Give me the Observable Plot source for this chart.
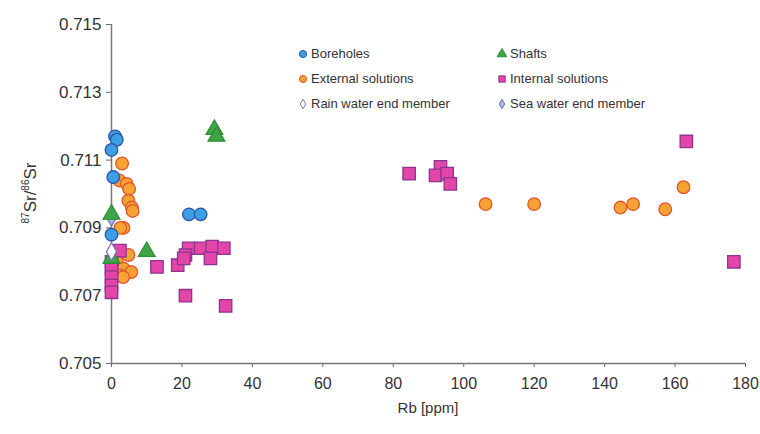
<!DOCTYPE html>
<html>
<head>
<meta charset="utf-8">
<script src="https://cdn.jsdelivr.net/npm/d3@7"></script>
<script src="https://cdn.jsdelivr.net/npm/@observablehq/plot@0.6"></script>
<style>
  html, body { margin: 0; padding: 0; background: #fff; }
  #wrap { position: relative; width: 760px; height: 434px; font-family: "Liberation Sans", Arial, sans-serif; }
  #legend { position: absolute; left: 297px; top: 44px; display: grid; grid-template-columns: 199px 200px; row-gap: 6px; font-size: 13px; color: #333; }
  #legend div { display: flex; align-items: center; height: 19px; white-space: nowrap; }
  #legend svg { margin-right: 2px; }
</style>
</head>
<body>
<div id="wrap"></div>
<script>
// ---- data ----
const xTicks = [0, 20, 40, 60, 80, 100, 120, 140, 160, 180];
const yTicks = [0.705, 0.707, 0.709, 0.711, 0.713, 0.715];

const boreholesRb = [1.0, 1.5, 0, 0.5, 0, 22, 25.3];
const boreholesSr = [0.7117, 0.7116, 0.7113, 0.7105, 0.7088, 0.7094, 0.7094];

const externalRb = [3.0, 2.2, 4.3, 5.0, 4.8, 5.8, 6.0, 3.4, 2.5, 4.8, 1.5, 3.4, 5.6, 2.4, 3.3, 106.2, 120, 144.5, 148.1, 157.2, 162.4];
const externalSr = [0.7109, 0.7104, 0.7103, 0.71015, 0.7098, 0.7096, 0.7095, 0.7090, 0.7090, 0.7082, 0.7080, 0.7078, 0.7077, 0.7076, 0.70755, 0.7097, 0.7097, 0.7096, 0.7097, 0.70955, 0.7102];

const shaftsRb = [29.2, 29.8, 0, 10, 0];
const shaftsSr = [0.7119, 0.7117, 0.7094, 0.7083, 0.7081];

const internalRb = [0, 0, 0, 0, 0, 2.4, 12.9, 18.8, 21.9, 21.0, 20.5, 25.3, 28.6, 28.1, 31.9, 21.0, 32.4, 84.5, 93.4, 92.0, 95.3, 96.2, 163.2, 176.7];
const internalSr = [0.7080, 0.7078, 0.70755, 0.7073, 0.7071, 0.70833, 0.70785, 0.7079, 0.7084, 0.7082, 0.7081, 0.7084, 0.70845, 0.7081, 0.7084, 0.7070, 0.7067, 0.7106, 0.7108, 0.71055, 0.7106, 0.7103, 0.71155, 0.7080];

const rainRb = [0];
const rainSr = [0.7083];
const seaRb = [0];
const seaSr = [0.7093];

const seriesNames = ["Boreholes", "Shafts", "External solutions", "Internal solutions", "Rain water end member", "Sea water end member"];

// ---- styles ----
const styles = {
  "Boreholes": {symbol: "circle", fill: "#3d9fe3", stroke: "#2b55a8", r: 6.3},
  "External solutions": {symbol: "circle", fill: "#f7a334", stroke: "#e2552a", r: 6.3},
  "Shafts": {symbol: "triangle", fill: "#3fa546", stroke: "#2e8f38", r: 6.2},
  "Internal solutions": {symbol: "square", fill: "#e345a9", stroke: "#8b3591", r: 7.0},
  "Rain water end member": {symbol: "diamond", fill: "#ffffff", stroke: "#7777b8", r: 5.4},
  "Sea water end member": {symbol: "diamond", fill: "#a9b8e8", stroke: "#6675b8", r: 5.0}
};

const toRows = (xs, ys) => xs.map((x, i) => ({x, y: ys[i]}));
const dots = (name, xs, ys) => {
  const s = styles[name];
  return Plot.dot(toRows(xs, ys), {x: "x", y: "y", symbol: () => s.symbol, r: s.r, fill: s.fill, stroke: s.stroke, strokeWidth: 1.3});
};

const chart = Plot.plot({
  width: 760,
  height: 434,
  marginLeft: 111,
  marginRight: 15,
  marginTop: 24,
  marginBottom: 71,
  style: {fontFamily: "'Liberation Sans', Arial, sans-serif", background: "#fff", overflow: "visible"},
  symbol: {type: "identity"},
  x: {domain: [0, 180], ticks: xTicks, label: null},
  y: {domain: [0.705, 0.715], ticks: yTicks, label: null, tickFormat: d3.format(".3f")},
  marks: [
    Plot.axisX({ticks: xTicks, tickSize: 4, tickPadding: 10, fontSize: 16, stroke: "#666", color: "#333", label: null}),
    Plot.axisY({ticks: yTicks, tickSize: 5, tickPadding: 5, fontSize: 17, stroke: "#666", color: "#333", tickFormat: d3.format(".3f"), label: null}),
    Plot.ruleX([0], {stroke: "#777", strokeWidth: 1.5}),
    Plot.ruleY([0.705], {stroke: "#777", strokeWidth: 1.5}),
    dots("Sea water end member", seaRb, seaSr),
    dots("External solutions", externalRb, externalSr),
    dots("Internal solutions", internalRb, internalSr),
    dots("Shafts", shaftsRb, shaftsSr),
    dots("Boreholes", boreholesRb, boreholesSr),
    dots("Rain water end member", rainRb, rainSr)
  ]
});

const wrap = document.getElementById("wrap");
wrap.appendChild(chart);

// axis titles
const svg = d3.select(chart);
svg.append("text")
  .attr("x", 428).attr("y", 413)
  .attr("text-anchor", "middle")
  .attr("font-size", 15).attr("fill", "#333")
  .text("Rb [ppm]");

const yl = svg.append("text")
  .attr("transform", "translate(36,193) rotate(-90)")
  .attr("text-anchor", "middle")
  .attr("font-size", 17).attr("fill", "#333");
yl.append("tspan").attr("font-size", 10).attr("dy", -7).text("87");
yl.append("tspan").attr("dy", 7).text("Sr/");
yl.append("tspan").attr("font-size", 10).attr("dy", -7).text("86");
yl.append("tspan").attr("dy", 7).text("Sr");

// legend
const legend = document.createElement("div");
legend.id = "legend";
const symPath = (name) => {
  const s = styles[name];
  const typ = {circle: d3.symbolCircle, square: d3.symbolSquare, triangle: d3.symbolTriangle, diamond: d3.symbolDiamond}[s.symbol];
  const size = s.symbol === "diamond" ? 26 : 40;
  return `<svg width="12" height="12" viewBox="-6 -6 12 12"><path d="${d3.symbol(typ, size)()}" fill="${s.fill}" stroke="${s.stroke}" stroke-width="1"/></svg>`;
};
for (const name of seriesNames) {
  const item = document.createElement("div");
  item.innerHTML = symPath(name) + `<span>${name}</span>`;
  legend.appendChild(item);
}
wrap.appendChild(legend);
</script>
</body>
</html>
